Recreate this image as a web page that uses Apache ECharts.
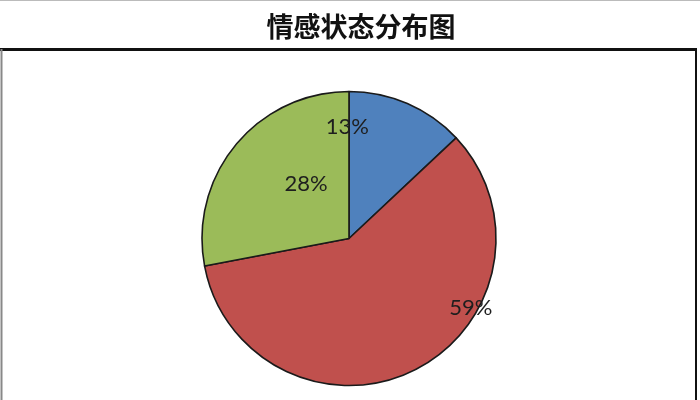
<!DOCTYPE html>
<html>
<head>
<meta charset="utf-8">
<script src="https://cdn.jsdelivr.net/npm/echarts@6/dist/echarts.min.js"></script>
<style>
html,body{margin:0;padding:0;background:#fff;}
#main{width:700px;height:400px;}
</style>
</head>
<body>
<div id="main"></div>
<script>
var titleText = '情感状态分布图';
var categories = ['类别一', '类别二', '类别三'];
var values = [13, 59, 28];
var colors = ['#4F81BD', '#C0504D', '#9BBB59'];
var labelOffsets = [[-32, -41], [87, 1], [16, -6]];

var chart = echarts.init(document.getElementById('main'));
chart.setOption({
  animation: false,
  title: {
    text: titleText,
    left: 356,
    textAlign: 'center',
    top: 8,
    textStyle: {
      fontFamily: 'Noto Sans CJK SC',
      fontWeight: 'bold',
      fontSize: 27,
      color: '#111'
    }
  },
  graphic: [
    { type: 'line', shape: { x1: 0, y1: 0.5, x2: 700, y2: 0.5 }, style: { stroke: '#bbb', lineWidth: 1 } },
    { type: 'line', shape: { x1: 0, y1: 49.5, x2: 697, y2: 49.5 }, style: { stroke: '#111', lineWidth: 3 } },
    { type: 'line', shape: { x1: 1.5, y1: 49, x2: 1.5, y2: 400 }, style: { stroke: '#888', lineWidth: 2 } },
    { type: 'line', shape: { x1: 696, y1: 49, x2: 696, y2: 400 }, style: { stroke: '#111', lineWidth: 2 } }
  ],
  series: [{
    type: 'pie',
    center: [349, 238.5],
    radius: 147,
    startAngle: 90,
    clockwise: true,
    silent: true,
    itemStyle: { borderColor: '#1a1a1a', borderWidth: 1.6 },
    label: {
      show: true,
      position: 'inside',
      formatter: function (p) { return p.value + '%'; },
      fontFamily: 'Lato',
      fontSize: 22,
      color: '#1e1e1e'
    },
    labelLine: { show: false },
    labelLayout: function (params) {
      var o = labelOffsets[params.dataIndex];
      return { dx: o[0], dy: o[1] };
    },
    data: categories.map(function (c, i) {
      return { name: c, value: values[i], itemStyle: { color: colors[i] } };
    })
  }]
});
</script>
</body>
</html>
